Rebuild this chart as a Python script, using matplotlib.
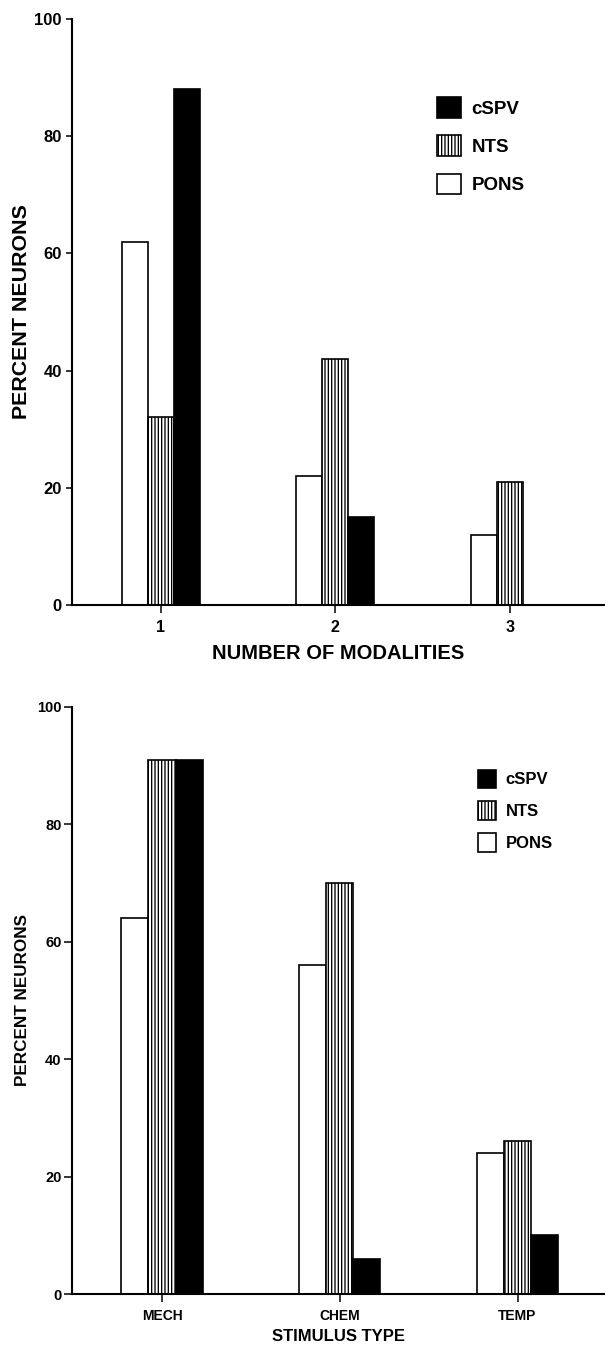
"""Two-panel grouped bar chart: percent neurons by modality count and stimulus type."""

import matplotlib
import matplotlib.pyplot as plt

matplotlib.use("Agg")

plt.rcParams["font.family"] = ["Liberation Sans", "DejaVu Sans"]
plt.rcParams["font.weight"] = "bold"
plt.rcParams["hatch.linewidth"] = 0.95
plt.rcParams["hatch.color"] = "black"

SERIES = ["PONS", "NTS", "cSPV"]

# top panel: number of modalities
MODALITIES = ["1", "2", "3"]
MOD_PONS = [62, 22, 12]
MOD_NTS = [32, 42, 21]
MOD_CSPV = [88, 15, 0]

# bottom panel: stimulus type
STIMULI = ["MECH", "CHEM", "TEMP"]
STIM_PONS = [64, 56, 24]
STIM_NTS = [91, 70, 26]
STIM_CSPV = [91, 6, 10]

Y_TICKS = [0, 20, 40, 60, 80, 100]

STYLE = {
    "PONS": dict(facecolor="white", hatch=None),
    "NTS": dict(facecolor="white", hatch="|||||"),
    "cSPV": dict(facecolor="black", hatch=None),
}

W, H = 605, 1345
fig = plt.figure(figsize=(W / 100, H / 100), dpi=100)


def px_axes(left, top, bottom):
    return fig.add_axes([left / W, 1 - bottom / H, 1 - left / W, (bottom - top) / H])


def draw_panel(ax, cats, values, width, xlim):
    xs = list(range(1, len(cats) + 1))
    handles = {}
    for k, (name, vals) in enumerate(zip(SERIES, values)):
        offs = [x + (k - 1) * width for x in xs]
        bars = ax.bar(offs, vals, width=width, edgecolor="black", linewidth=1.2,
                      label=name, **STYLE[name])
        handles[name] = bars
    ax.set_xlim(*xlim)
    ax.set_ylim(0, 100)
    ax.set_xticks(xs)
    ax.set_xticklabels(cats)
    ax.set_yticks(Y_TICKS)
    for side in ("top", "right"):
        ax.spines[side].set_visible(False)
    for side in ("left", "bottom"):
        ax.spines[side].set_linewidth(1.5)
    ax.patch.set_alpha(0)
    return handles


# --- top panel
ax1 = px_axes(71.5, 18.9, 605)
h1 = draw_panel(ax1, MODALITIES, [MOD_PONS, MOD_NTS, MOD_CSPV], 0.149,
                (0.4886, 3.544))
ax1.tick_params(axis="y", length=4.5, width=1.1, pad=2.5, labelsize=12)
ax1.tick_params(axis="x", length=6, width=1.1, pad=4.5, labelsize=11.5)
ax1.set_ylabel("PERCENT NEURONS", fontsize=15.4, fontweight="bold", va="center")
ax1.yaxis.set_label_coords(-0.094, 0.5)
ax1.set_xlabel("NUMBER OF MODALITIES", fontsize=14.5, fontweight="bold", va="center")
ax1.xaxis.set_label_coords(0.5, -0.0836)
ax1.legend([h1[n] for n in ["cSPV", "NTS", "PONS"]], ["cSPV", "NTS", "PONS"],
           loc="upper left", bbox_to_anchor=(0.685, 0.866), frameon=False,
           borderpad=0, borderaxespad=0, handlelength=1.28, handleheight=1.33,
           handletextpad=0.57, labelspacing=0.92,
           prop={"size": 13.5, "weight": "bold"})

# --- bottom panel
ax2 = px_axes(71.7, 706.7, 1294)
h2 = draw_panel(ax2, STIMULI, [STIM_PONS, STIM_NTS, STIM_CSPV], 0.152,
                (0.492, 3.492))
ax2.tick_params(axis="y", length=6, width=1.1, pad=1.3, labelsize=10.5)
ax2.tick_params(axis="x", length=6, width=1.1, pad=5, labelsize=10)
ax2.set_ylabel("PERCENT NEURONS", fontsize=12.3, fontweight="bold", va="center")
ax2.yaxis.set_label_coords(-0.092, 0.5)
ax2.set_xlabel("STIMULUS TYPE", fontsize=12, fontweight="bold", va="center")
ax2.xaxis.set_label_coords(0.5, -0.0724)
ax2.legend([h2[n] for n in ["cSPV", "NTS", "PONS"]], ["cSPV", "NTS", "PONS"],
           loc="upper left", bbox_to_anchor=(0.761, 0.893), frameon=False,
           borderpad=0, borderaxespad=0, handlelength=1.1, handleheight=1.32,
           handletextpad=0.6, labelspacing=0.81,
           prop={"size": 12, "weight": "bold"})

fig.savefig("out.png", dpi=100)
plt.close(fig)
